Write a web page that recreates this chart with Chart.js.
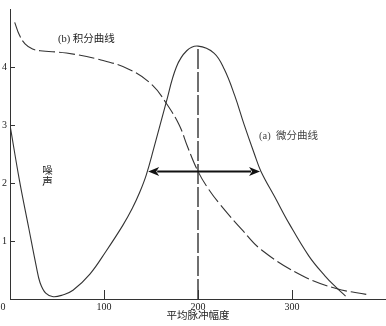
<!DOCTYPE html>
<html><head><meta charset="utf-8">
<script src="https://cdn.jsdelivr.net/npm/chart.js"></script>
<style>html,body{margin:0;padding:0;background:#fff;}canvas{display:block;}</style>
</head><body>
<canvas id="c" width="386" height="326"></canvas>
<script>
// ---- data ----
const xTicks = [100, 200, 300];
const yTicks = [1, 2, 3, 4];
const diffX = [0, 10, 20, 28, 32, 38, 46, 56, 67, 85, 102, 120, 130, 138, 145, 153, 166, 177, 188, 200, 217, 228, 239, 249, 260, 267, 282, 297, 318, 335, 347, 357];
const diffY = [3.0, 2.05, 1.22, 0.56, 0.28, 0.1, 0.04, 0.07, 0.15, 0.43, 0.82, 1.27, 1.56, 1.84, 2.14, 2.6, 3.38, 4.0, 4.28, 4.36, 4.24, 3.96, 3.51, 3.01, 2.5, 2.2, 1.75, 1.3, 0.74, 0.4, 0.2, 0.05];
const intX = [5, 10, 16, 24, 32, 60, 95, 128, 152, 166, 180, 189, 200, 211, 224, 246, 268, 311, 347, 379];
const intY = [4.77, 4.55, 4.4, 4.31, 4.28, 4.24, 4.13, 3.95, 3.68, 3.38, 3.0, 2.62, 2.2, 1.9, 1.62, 1.21, 0.84, 0.40, 0.18, 0.08];
const peakX = [200, 200];
const peakY = [0, 4.35];
const arrowX = [147, 266];
const arrowY = 2.2;
const textB = "(b) 积分曲线";
const textA = "(a)  微分曲线";
const textNoise = ["噪", "声"];
const xTitle = "平均脉冲幅度";
const originLabel = "0";

const FONT = "'Liberation Serif', 'Noto Sans CJK SC', serif";
const pts = (xs, ys) => xs.map((x, i) => ({x, y: ys[i]}));

const decor = {
  id: 'decor',
  afterDraw(chart) {
    const ctx = chart.ctx, xs = chart.scales.x, ys = chart.scales.y;
    ctx.save();
    ctx.strokeStyle = '#333'; ctx.lineWidth = 1;
    yTicks.forEach(v => {
      const py = Math.round(ys.getPixelForValue(v)) + 0.5;
      ctx.beginPath(); ctx.moveTo(xs.left, py); ctx.lineTo(xs.left + 5, py); ctx.stroke();
    });
    xTicks.forEach(v => {
      const px = Math.round(xs.getPixelForValue(v)) + 0.5;
      ctx.beginPath(); ctx.moveTo(px, ys.bottom); ctx.lineTo(px, ys.bottom - 9); ctx.stroke();
    });
    // arrow
    const x1 = xs.getPixelForValue(arrowX[0]), x2 = xs.getPixelForValue(arrowX[1]);
    const ay = ys.getPixelForValue(arrowY);
    const hl = 11, hw = 4.5;
    ctx.strokeStyle = '#111'; ctx.fillStyle = '#111'; ctx.lineWidth = 2;
    ctx.beginPath(); ctx.moveTo(x1 + hl - 2, ay); ctx.lineTo(x2 - hl + 2, ay); ctx.stroke();
    ctx.beginPath(); ctx.moveTo(x1, ay); ctx.lineTo(x1 + hl, ay - hw); ctx.lineTo(x1 + hl - 3, ay); ctx.lineTo(x1 + hl, ay + hw); ctx.closePath(); ctx.fill();
    ctx.beginPath(); ctx.moveTo(x2, ay); ctx.lineTo(x2 - hl, ay - hw); ctx.lineTo(x2 - hl + 3, ay); ctx.lineTo(x2 - hl, ay + hw); ctx.closePath(); ctx.fill();
    // texts
    ctx.fillStyle = '#222';
    ctx.font = "10.5px " + FONT;
    ctx.textBaseline = 'middle';
    ctx.textAlign = 'left';
    ctx.fillText(textB, xs.getPixelForValue(51), ys.getPixelForValue(4.47));
    ctx.fillStyle = '#444';
    ctx.fillText(textA, xs.getPixelForValue(265), ys.getPixelForValue(2.8));
    ctx.fillStyle = '#222';
    ctx.textAlign = 'center';
    ctx.fillText(textNoise[0], xs.getPixelForValue(40), ys.getPixelForValue(2.2));
    ctx.fillText(textNoise[1], xs.getPixelForValue(40), ys.getPixelForValue(2.02));
    ctx.fillText(xTitle, (xs.left + xs.right) / 2, 316);
    ctx.font = "10px " + FONT;
    ctx.fillText(originLabel, xs.left - 7, ys.bottom + 8);
    ctx.restore();
  }
};

new Chart(document.getElementById('c'), {
  type: 'line',
  data: {
    datasets: [
      { data: pts(diffX, diffY), borderColor: '#333', borderWidth: 1.1, pointRadius: 0, tension: 0.4, fill: false },
      { data: pts(intX, intY), borderColor: '#333', borderWidth: 1.1, borderDash: [16, 4], pointRadius: 0, tension: 0.4, fill: false },
      { data: pts(peakX, peakY), borderColor: '#333', borderWidth: 1.4, borderDash: [20, 3], pointRadius: 0, fill: false }
    ]
  },
  options: {
    responsive: false, animation: false,
    layout: { padding: 0 },
    plugins: { legend: { display: false }, tooltip: { enabled: false } },
    scales: {
      x: {
        type: 'linear', min: 0, max: 400,
        afterBuildTicks: s => { s.ticks = xTicks.map(v => ({value: v})); },
        afterFit: s => { s.height = 27; },
        grid: { drawOnChartArea: false, drawTicks: false },
        border: { display: true, color: '#333', width: 1 },
        ticks: { padding: 2, color: '#222', font: { family: FONT, size: 10 }, maxRotation: 0 }
      },
      y: {
        type: 'linear', min: 0, max: 5,
        afterBuildTicks: s => { s.ticks = yTicks.map(v => ({value: v})); },
        afterFit: s => { s.width = 10; },
        grid: { drawOnChartArea: false, drawTicks: false },
        border: { display: true, color: '#333', width: 1 },
        ticks: { padding: 3, color: '#222', font: { family: FONT, size: 10 } }
      }
    }
  },
  plugins: [decor]
});
</script>
</body></html>
